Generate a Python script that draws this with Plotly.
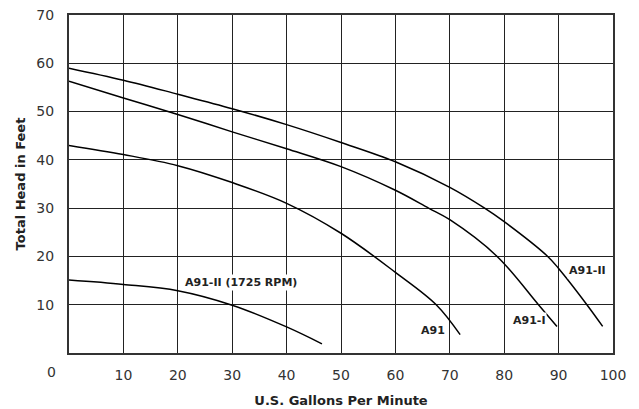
import plotly.graph_objects as go

# A91-II
a91ii_x = [0, 10, 20, 30, 40, 50, 60, 70, 76.4, 80, 88, 90, 95.2, 98.1]
a91ii_y = [59.0, 56.5, 53.6, 50.6, 47.3, 43.6, 39.6, 34.3, 30.0, 27.2, 20.0, 17.5, 10.0, 5.5]
# A91-I
a91i_x = [0, 10, 20, 30, 40, 50, 60, 66.1, 70, 78.7, 86.3, 89.7]
a91i_y = [56.3, 52.8, 49.4, 45.8, 42.3, 38.6, 33.7, 30.0, 27.6, 20.0, 10.0, 5.5]
# A91
a91_x = [0, 10, 20, 30, 40, 50, 60, 67.5, 71.9]
a91_y = [43.0, 41.1, 38.8, 35.3, 31.0, 24.8, 16.7, 10.0, 3.8]
# A91-II (1725 RPM)
slow_x = [0, 10, 20, 30, 40, 46.5]
slow_y = [15.1, 14.2, 12.9, 9.9, 5.4, 1.9]

labels = ["A91-II", "A91-I", "A91", "A91-II (1725 RPM)"]
label_x = [95.4, 84.5, 67.0, 31.7]
label_y = [17.0, 6.7, 4.7, 14.6]

x_ticks = [10, 20, 30, 40, 50, 60, 70, 80, 90, 100]
y_ticks = [10, 20, 30, 40, 50, 60, 70]

FONT = "DejaVu Sans"
fig = go.Figure()
for xs, ys in [(a91ii_x, a91ii_y), (a91i_x, a91i_y), (a91_x, a91_y), (slow_x, slow_y)]:
    fig.add_trace(go.Scatter(x=xs, y=ys, mode="lines",
                             line=dict(color="black", width=1.5, shape="spline", smoothing=1.0),
                             hoverinfo="skip", showlegend=False))

for t, x, y in zip(labels, label_x, label_y):
    fig.add_annotation(x=x, y=y, text="<b>%s</b>" % t, showarrow=False,
                       font=dict(family=FONT, size=11, color="#222"),
                       bgcolor="white", borderpad=1)

fig.add_annotation(x=0, y=0, text="0", showarrow=False, xanchor="right", yanchor="top",
                   xshift=-11, yshift=-9, font=dict(family=FONT, size=14, color="#333"))

fig.update_xaxes(range=[0, 100], tickvals=x_ticks, ticktext=[str(v) for v in x_ticks],
                 showgrid=True, gridcolor="#222", gridwidth=1.2,
                 showline=True, linecolor="#333", linewidth=2, mirror=True,
                 ticks="", ticklabelstandoff=8, automargin=False,
                 tickfont=dict(family=FONT, size=14, color="#333"),
                 title=dict(text="<b>U.S. Gallons Per Minute</b>", font=dict(family=FONT, size=13, color="#222"),
                            standoff=14),
                 zeroline=False)
fig.update_yaxes(range=[0, 70], tickvals=y_ticks, ticktext=[str(v) for v in y_ticks],
                 showgrid=True, gridcolor="#222", gridwidth=1.2,
                 showline=True, linecolor="#333", linewidth=2, mirror=True,
                 ticks="", ticklabelstandoff=10, automargin=False,
                 tickfont=dict(family=FONT, size=14, color="#333"),
                 title=dict(text="<b>Total Head in Feet</b>", font=dict(family=FONT, size=13, color="#222"),
                            standoff=8),
                 zeroline=False)

fig.update_layout(width=639, height=409, margin=dict(l=69, r=26, t=15, b=56),
                  plot_bgcolor="white", paper_bgcolor="white")
# remove the browser's default 8px body margin so the figure fills the window
fig.write_html("out.html", config={"displayModeBar": False},
               post_script="document.body.style.margin='0px';document.body.style.padding='0px';"
                           "document.documentElement.style.overflow='hidden';")
